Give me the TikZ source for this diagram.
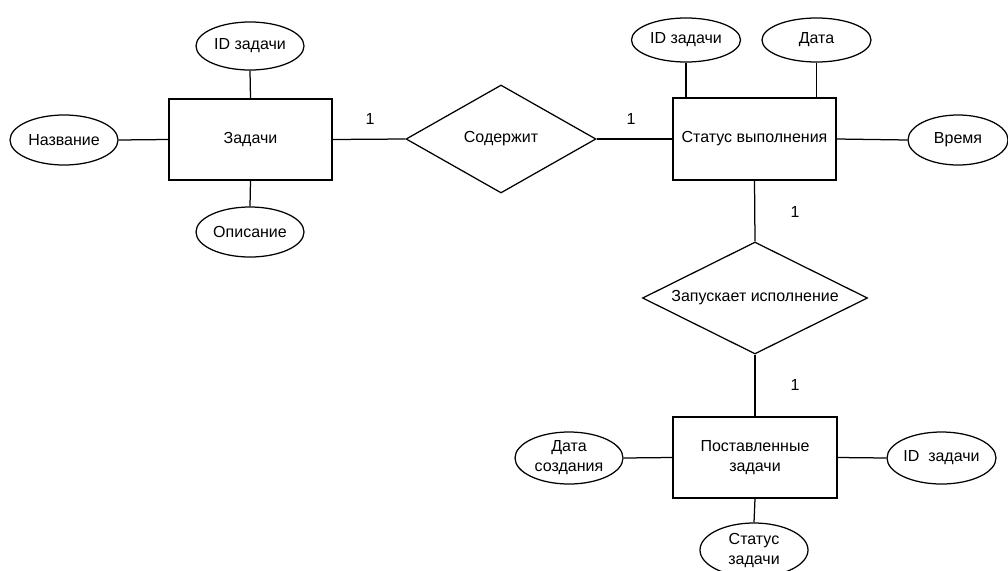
\documentclass[tikz,border=0pt]{standalone}
\usepackage{fontspec}
\setmainfont{Liberation Sans}
\usetikzlibrary{shapes.geometric}
\begin{document}
\begin{tikzpicture}[x=1pt,y=-1pt,
  every node/.style={font=\fontsize{16}{20}\selectfont, text=black},
  line/.style={draw=black, line width=1.25pt},
  entity/.style={line, rectangle, inner sep=0pt, align=center},
  attr/.style={line, ellipse, inner sep=0pt, align=center},
  rel/.style={line, diamond, inner sep=0pt, align=center},
  card/.style={inner sep=0pt}]
\useasboundingbox (0,0) rectangle (1008,570);

% entities
\node[entity, minimum width=163pt, minimum height=81pt] (tasks) at (250.5,139.5) {Задачи};
\node[entity, minimum width=163pt, minimum height=82pt] (status) at (754.5,139) {Статус выполнения};
\node[entity, minimum width=164pt, minimum height=81pt] (assigned) at (755,457.5) {Поставленные\\задачи};

% relationships
\node[rel, shape aspect=1.76, minimum width=190pt, minimum height=108pt] (contains) at (501,139) {Содержит};
\node[rel, shape aspect=2.0, minimum width=225pt, minimum height=112pt] (launches) at (755,298) {Запускает исполнение};

% attributes of tasks
\node[attr, minimum width=108pt, minimum height=48pt] (tid) at (250,46) {ID задачи};
\node[attr, minimum width=108pt, minimum height=50pt] (tname) at (64,140) {Название};
\node[attr, minimum width=108pt, minimum height=50pt] (tdesc) at (250,232) {Описание};

% attributes of execution status
\node[attr, minimum width=109pt, minimum height=44pt] (sid) at (686,40) {ID задачи};
\node[attr, minimum width=109pt, minimum height=44pt] (sdate) at (816.5,40) {Дата};
\node[attr, minimum width=100pt, minimum height=50pt] (stime) at (958,140) {Время};

% attributes of assigned tasks
\node[attr, minimum width=108pt, minimum height=52pt] (adate) at (569,458) {Дата\\создания};
\node[attr, minimum width=109pt, minimum height=52pt] (aid) at (941.5,458) {ID~~задачи};
\node[attr, minimum width=108pt, minimum height=54pt] (astat) at (754,550) {Статус\\задачи};

% connectors
\draw[line] (tasks.north) -- (tid.south);
\draw[line] (tasks.south) -- (tdesc.north);
\draw[line] (tasks.west) -- (tname.east);
\draw[line] (tasks.east) -- (contains.west);
\draw[line] (contains.east) -- (status.west);
\draw[line] (sid.south) -- (sid.south |- status.north);
\draw[line] (sdate.south) -- (sdate.south |- status.north);
\draw[line] (status.east) -- (stime.west);
\draw[line] (status.south) -- (launches.north);
\draw[line] (launches.south) -- (assigned.north);
\draw[line] (adate.east) -- (assigned.west);
\draw[line] (assigned.east) -- (aid.west);
\draw[line] (assigned.south) -- (astat.north);

% cardinalities
\node[card] (c1) at (370,119) {1};
\node[card] (c2) at (631,119) {1};
\node[card] (c3) at (795,212) {1};
\node[card] (c4) at (795,385) {1};
\end{tikzpicture}
\end{document}
